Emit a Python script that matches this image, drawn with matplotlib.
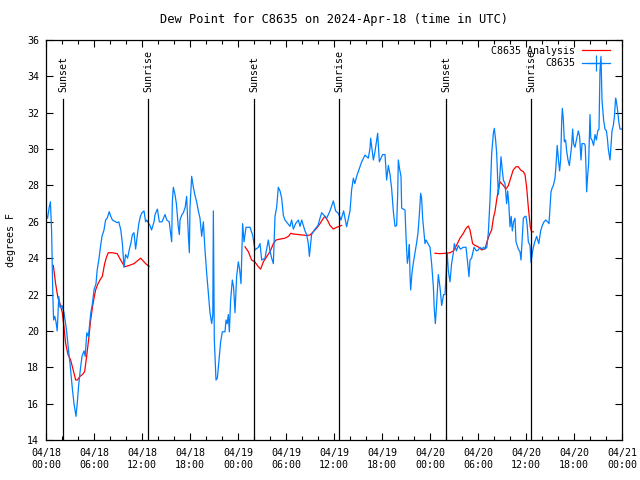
import datetime as dt
import numpy as np
import matplotlib
matplotlib.use("Agg")
import matplotlib.pyplot as plt
import matplotlib.dates as mdates
from matplotlib.lines import Line2D

plt.rcParams['font.family'] = ['DejaVu Sans Mono']
plt.rcParams['font.size'] = 7.2

start = dt.datetime(2024, 4, 18, 0, 0)

# observed dew point, (hours since 04/18 00:00 UTC, degrees F)
obs_a = [(0.0, 26.4), (0.2, 26.2), (0.4, 26.8), (0.55, 27.1), (0.7, 25.5), (0.85, 22.0),
         (0.95, 20.6), (1.1, 20.8), (1.25, 20.5), (1.4, 20.0), (1.6, 21.9), (1.75, 21.3),
         (2.0, 21.4), (2.25, 21.0), (2.45, 20.4), (2.6, 19.9), (2.8, 19.0), (3.0, 18.2),
         (3.3, 16.8), (3.5, 16.0), (3.75, 15.3), (3.9, 16.0), (4.1, 17.1), (4.3, 17.9),
         (4.5, 18.6), (4.75, 18.9), (4.9, 18.6), (5.1, 19.9), (5.3, 19.7), (5.6, 21.0),
         (5.8, 21.5), (6.0, 22.25), (6.25, 22.6), (6.4, 23.35), (6.6, 23.9), (6.8, 24.6),
         (7.0, 25.2), (7.25, 25.55), (7.45, 26.1), (7.65, 26.2), (7.9, 26.56), (8.1, 26.3),
         (8.3, 26.1), (8.7, 26.0), (8.9, 25.95), (9.1, 26.0), (9.35, 25.55), (9.55, 24.8),
         (9.75, 23.5), (9.95, 24.2), (10.2, 24.0), (10.4, 24.45), (10.6, 24.8), (10.8, 25.3),
         (11.0, 25.4), (11.2, 24.5), (11.4, 25.2), (11.6, 25.9), (11.8, 26.3), (12.0, 26.5),
         (12.25, 26.6), (12.45, 26.0), (12.6, 26.1), (12.85, 25.9), (13.0, 25.8),
         (13.2, 25.55), (13.5, 26.0)]
obs_b = [(13.63, 26.4), (13.92, 26.7), (14.17, 26.0), (14.5, 26.0), (14.875, 26.4),
         (15.1, 26.1), (15.4, 26.0), (15.625, 25.2), (15.71, 24.9), (15.79, 27.1),
         (15.92, 27.9), (16.125, 27.5), (16.3, 27.0), (16.54, 25.7), (16.67, 25.3),
         (16.75, 26.1), (17.0, 26.4), (17.17, 26.5), (17.4, 26.8), (17.58, 27.4),
         (17.79, 25.3), (17.92, 24.3), (18.0, 26.8), (18.21, 28.5), (18.42, 27.9),
         (18.6, 27.5), (18.83, 27.1), (19.04, 26.6), (19.25, 26.2), (19.46, 25.2),
         (19.67, 26.0), (19.875, 24.45), (20.08, 23.2), (20.29, 22.1), (20.5, 21.0),
         (20.71, 20.4), (20.85, 20.9), (20.92, 26.6), (21.04, 19.5), (21.25, 17.3),
         (21.42, 17.4), (21.625, 18.4), (21.83, 19.4), (22.04, 19.95), (22.375, 19.95),
         (22.5, 20.6), (22.65, 20.4), (22.79, 20.9), (22.92, 19.95), (23.08, 21.7),
         (23.29, 22.8), (23.45, 22.4), (23.625, 21.0), (23.83, 23.0), (24.04, 23.8),
         (24.2, 23.4)]
obs_c = [(24.375, 22.6), (24.46, 24.0), (24.58, 25.9), (24.75, 24.9), (25.0, 25.7),
         (25.5, 25.7), (25.83, 25.27), (26.125, 24.45), (26.54, 24.6), (26.75, 24.8),
         (26.96, 23.9), (27.375, 24.0), (27.79, 25.0), (28.0, 24.4), (28.21, 24.0),
         (28.42, 23.7), (28.625, 26.3), (28.83, 26.8), (29.04, 27.9), (29.25, 27.7),
         (29.46, 27.3), (29.67, 26.35), (29.875, 26.1), (30.5, 25.75), (30.7, 26.1),
         (30.92, 25.6), (31.2, 25.9), (31.54, 26.1), (31.75, 25.75), (31.96, 26.1),
         (32.2, 25.75), (32.375, 25.5), (32.58, 25.3), (32.79, 24.8), (32.92, 24.1),
         (33.2, 25.3), (33.625, 25.6), (34.0, 25.8), (34.25, 26.2), (34.46, 26.5),
         (35.08, 26.2), (35.5, 26.6), (35.92, 27.15), (36.2, 26.6), (36.54, 26.47),
         (36.875, 26.1), (37.2, 26.6), (37.58, 25.73), (38.0, 26.6)]
obs_d = [(38.2, 27.75), (38.42, 28.4), (38.6, 28.1), (38.83, 28.5), (39.25, 29.03),
         (39.46, 29.3), (39.875, 29.67), (40.29, 29.5), (40.5, 30.04), (40.58, 30.6),
         (40.92, 29.4), (41.1, 29.8), (41.33, 30.5), (41.46, 30.87), (41.67, 29.3),
         (42.08, 29.7), (42.375, 29.7), (42.58, 28.3), (42.79, 29.1), (43.0, 28.6),
         (43.2, 27.85), (43.42, 26.56), (43.625, 25.75), (43.83, 25.8), (43.96, 27.5),
         (44.04, 29.4), (44.2, 28.9), (44.375, 28.5), (44.46, 26.75), (44.875, 26.65),
         (45.0, 25.2), (45.17, 23.72), (45.3, 24.1), (45.42, 24.75), (45.5, 23.1),
         (45.58, 22.25), (45.75, 23.2), (45.92, 23.75), (46.33, 24.85), (46.5, 25.4),
         (46.67, 26.4), (46.83, 27.57), (46.95, 27.3), (47.08, 26.2), (47.375, 24.8),
         (47.5, 25.0), (48.0, 24.6)]
obs_e = [(48.2, 23.72), (48.42, 22.43), (48.54, 21.15), (48.67, 20.4), (48.83, 21.5),
         (49.04, 23.1), (49.25, 22.4), (49.46, 21.4), (49.7, 22.0), (49.875, 22.0),
         (50.0, 23.1), (50.15, 24.3), (50.29, 23.3), (50.5, 22.7), (50.7, 23.7),
         (50.92, 24.3), (51.04, 24.8), (51.3, 24.4), (51.54, 24.7), (51.8, 24.5),
         (52.17, 24.6), (52.5, 24.6), (52.67, 23.9), (52.875, 22.98), (53.0, 23.9),
         (53.2, 24.0), (53.5, 24.6), (53.8, 24.4), (54.04, 24.45), (54.25, 24.6),
         (54.46, 24.5), (54.7, 24.6), (54.875, 24.5), (55.1, 24.6), (55.29, 25.4),
         (55.5, 27.2), (55.71, 29.77), (55.92, 30.87), (56.04, 31.14), (56.2, 30.5),
         (56.33, 29.8), (56.54, 27.5), (56.7, 28.3), (56.875, 29.58), (57.0, 29.0),
         (57.17, 28.3), (57.375, 28.1), (57.58, 27.0), (57.71, 27.7), (57.85, 27.0),
         (58.0, 25.73), (58.15, 26.3), (58.29, 25.5), (58.45, 26.0), (58.625, 26.2),
         (58.75, 24.9), (58.9, 24.7), (59.04, 24.5), (59.25, 24.35), (59.375, 23.9),
         (59.54, 25.2), (59.67, 26.2), (59.875, 26.3), (60.0, 26.3), (60.15, 25.8),
         (60.29, 24.9), (60.5, 24.7), (60.625, 23.75), (60.8, 24.3), (60.92, 24.6)]
obs_f = [(61.1, 24.9), (61.33, 25.2), (61.6, 24.8), (61.83, 25.5), (62.04, 25.8),
         (62.25, 26.0), (62.46, 26.1), (62.7, 26.0), (62.875, 25.9), (63.0, 26.8),
         (63.125, 27.65), (63.3, 27.9), (63.42, 28.0), (63.625, 28.4), (63.75, 29.1),
         (63.9, 30.2), (64.04, 29.5), (64.2, 28.8), (64.33, 29.4), (64.46, 31.5),
         (64.54, 32.24), (64.67, 31.6), (64.79, 30.4), (64.95, 30.5), (65.08, 29.9),
         (65.25, 29.4), (65.42, 29.1), (65.55, 29.6), (65.71, 30.2), (65.83, 31.1),
         (65.95, 30.3), (66.125, 30.1), (66.3, 30.5), (66.54, 31.0), (66.7, 30.7),
         (66.875, 29.4), (67.0, 30.3), (67.29, 30.3), (67.4, 30.2), (67.5, 29.0),
         (67.58, 27.65), (67.7, 28.5), (67.83, 29.2), (68.0, 31.9), (68.1, 30.6),
         (68.25, 30.5), (68.45, 30.2), (68.625, 30.8), (68.8, 30.5), (68.96, 31.0),
         (69.125, 31.1), (69.25, 34.35), (69.375, 35.1), (69.5, 32.7), (69.7, 31.6),
         (69.875, 31.1), (70.05, 31.0), (70.17, 30.6), (70.29, 30.0), (70.5, 29.4),
         (70.62, 30.2), (70.75, 31.0), (70.92, 31.3), (71.05, 31.8), (71.2, 32.8),
         (71.3, 32.6), (71.46, 32.1), (71.6, 31.5), (71.75, 31.1), (71.96, 31.1)]

# analysis dew point, one run per day
ana_1 = [(0.92, 23.6), (1.2, 22.6), (1.5, 21.8), (1.75, 21.5), (2.04, 21.0), (2.25, 20.2),
         (2.46, 19.3), (2.75, 18.7), (3.08, 18.4), (3.4, 17.85), (3.71, 17.3), (3.92, 17.3),
         (4.25, 17.5), (4.55, 17.6), (4.83, 17.76), (5.08, 18.6), (5.375, 19.7), (5.58, 20.6),
         (5.875, 21.5), (6.2, 22.25), (6.5, 22.6), (6.75, 22.8), (7.04, 23.0), (7.33, 23.7),
         (7.58, 24.08), (7.79, 24.3), (8.29, 24.3), (8.9, 24.25), (9.33, 23.9), (9.83, 23.53),
         (10.4, 23.6), (11.0, 23.7), (11.83, 24.0), (12.46, 23.7), (12.875, 23.55)]
ana_2 = [(24.875, 24.63), (25.3, 24.35), (25.7, 23.9), (26.1, 23.8), (26.54, 23.53),
         (26.83, 23.4), (27.17, 23.8), (27.58, 24.08), (28.0, 24.35), (28.42, 24.8),
         (28.75, 25.0), (29.25, 25.05), (29.875, 25.1), (30.3, 25.2), (30.6, 25.37),
         (30.92, 25.33), (31.54, 25.3), (32.17, 25.27), (32.58, 25.25), (33.0, 25.27),
         (33.4, 25.45), (33.83, 25.65), (34.25, 25.9), (34.67, 26.2), (34.875, 26.3),
         (35.17, 26.1), (35.5, 25.8), (35.92, 25.6), (36.33, 25.7), (36.96, 25.8)]
ana_3 = [(48.625, 24.27), (49.25, 24.25), (50.0, 24.27), (50.5, 24.3), (50.92, 24.4),
         (51.33, 24.72), (51.75, 25.1), (52.17, 25.37), (52.5, 25.64), (52.79, 25.77),
         (53.0, 25.55), (53.33, 24.8), (53.625, 24.7), (54.04, 24.62), (54.46, 24.45),
         (54.875, 24.53), (55.17, 24.97), (55.5, 25.37), (55.71, 25.55), (55.92, 26.2),
         (56.125, 26.57), (56.33, 27.2), (56.54, 27.75), (56.75, 28.2), (57.17, 28.0),
         (57.5, 27.8), (57.8, 28.0), (58.08, 28.4), (58.4, 28.85), (58.75, 29.03),
         (59.04, 29.03), (59.33, 28.85), (59.67, 28.75), (59.875, 28.6), (60.08, 27.9),
         (60.29, 26.8), (60.54, 25.7), (60.7, 25.45), (60.92, 25.45)]

sun_hours = [2.15, 12.78, 26.04, 36.67, 50.04, 60.67]
sun_labels = ['Sunset', 'Sunrise', 'Sunset', 'Sunrise', 'Sunset', 'Sunrise']


def to_time(pairs):
    return [start + dt.timedelta(hours=h) for h, _ in pairs], [v for _, v in pairs]


obs_t, obs_v = to_time(obs_a + obs_b + obs_c + obs_d + obs_e + obs_f)

fig = plt.figure(figsize=(6.4, 4.8), dpi=100)
ax = fig.add_axes([46/640, 40/480, 576/640, 400/480])

for seg in (ana_1, ana_2, ana_3):
    t, v = to_time(seg)
    ax.plot(t, v, color='#ff0000', lw=0.9)
ax.plot(obs_t, obs_v, color='#0080ff', lw=0.9)

for h, lab in zip(sun_hours, sun_labels):
    t = start + dt.timedelta(hours=h)
    ax.plot([t, t], [14, 32.75], color='black', lw=0.9)
    ax.text(t, 33.15, lab, rotation=90, ha='center', va='bottom')

ax.set_xlim(start, start + dt.timedelta(days=3))
ax.set_ylim(14, 36)
ax.set_yticks(np.arange(14, 37, 2))
ax.xaxis.set_major_locator(mdates.HourLocator(byhour=[0, 6, 12, 18]))
ax.xaxis.set_minor_locator(mdates.HourLocator(interval=2))
ax.xaxis.set_major_formatter(mdates.DateFormatter('%m/%d\n%H:%M'))
ax.tick_params(which='both', direction='in', top=True, right=True, width=0.8)
ax.tick_params(which='major', length=5)
ax.tick_params(which='minor', length=3)
ax.tick_params(axis='x', which='major', pad=6)
ax.tick_params(axis='y', which='major', pad=5)
for s in ax.spines.values():
    s.set_linewidth(0.9)

ax.set_title('Dew Point for C8635 on 2024-Apr-18 (time in UTC)', pad=12)
ax.set_ylabel('degrees F', labelpad=8)

handles = [Line2D([], [], color='#ff0000', lw=0.9),
           Line2D([], [], color='#0080ff', lw=0.9, marker='+', markersize=12, markeredgewidth=0.9)]
ax.legend(handles, ['C8635 Analysis', 'C8635'], loc='upper right', frameon=False,
          markerfirst=False, handlelength=2.8, handletextpad=0.7, labelspacing=0.25,
          borderaxespad=0.2, bbox_to_anchor=(0.99, 1.0))

fig.savefig('out.png', dpi=100)
